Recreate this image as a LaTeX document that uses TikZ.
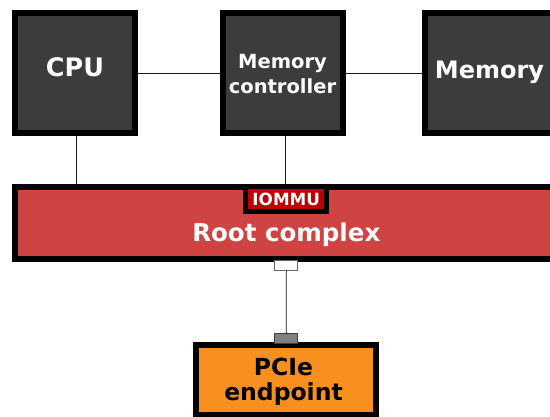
\documentclass[tikz,border=0pt]{standalone}
\usepackage{fontspec}
\setmainfont{DejaVu Sans}
\definecolor{boxgray}{HTML}{3C3C3C}
\definecolor{rcred}{HTML}{D04343}
\definecolor{iored}{HTML}{C00000}
\definecolor{pcieorange}{HTML}{F7901E}
\definecolor{portgray}{HTML}{808080}
\begin{document}
\begin{tikzpicture}[x=1pt,y=1pt,
  darkbox/.style={draw=black,fill=boxgray,line width=6pt,inner sep=0pt,minimum width=120pt,minimum height=120pt},
  rcbox/.style={draw=black,fill=rcred,line width=6pt,inner sep=0pt},
  iobox/.style={draw=black,fill=iored,line width=5pt,inner sep=0pt,minimum width=81pt,minimum height=24.7pt},
  pciebox/.style={draw=black,fill=pcieorange,line width=6pt,inner sep=0pt,minimum width=180pt,minimum height=70pt},
  port/.style={line width=1pt,inner sep=0pt,minimum width=23pt,minimum height=10pt},
  wire/.style={draw=black!90,line width=0.9pt},
  lbl/.style={inner sep=0pt,font=\bfseries,align=center}
]
\useasboundingbox (0,0) rectangle (550,416);
\begin{scope}
\clip (0,0) rectangle (550,416);
% boxes
\node[darkbox] (cpu) at (75,343) {};
\node[darkbox] (mc) at (283,343) {};
\node[darkbox,minimum width=130pt] (mem) at (490,343) {};
\node[rcbox,minimum width=542pt,minimum height=72pt] (rc) at (286,193) {};
\node[pciebox] (pcie) at (286,36) {};
% connectors
\draw[wire] (cpu.east) -- (mc.west);
\draw[wire] (mc.east) -- (mem.west);
\draw[wire] ([xshift=1pt]cpu.south) -- ([xshift=1pt]cpu.south |- rc.north);
\draw[wire] ([xshift=2pt]mc.south) -- ([xshift=2pt]mc.south |- rc.north);
% IOMMU and ports
\node[iobox] (io) at (286.3,216.8) {};
\node[port,draw=black!60,fill=white] (wp) at (286.2,150.7) {};
\node[port,draw=black!75,fill=portgray] (gp) at (286.3,77.2) {};
\draw[wire] (wp.south) -- (gp.north);
% texts
\node[lbl,text=white,anchor=base,font=\bfseries\fontsize{25.5}{30}\selectfont] (cpuT) at (75,339.3) {CPU};
\node[lbl,text=white,anchor=base,font=\bfseries\fontsize{24}{30}\selectfont] (memT) at (489.5,337) {Memory};
\node[lbl,text=white,anchor=north,font=\bfseries\fontsize{19.5}{24.7}\selectfont] (mcT) at (282.5,361.7) {Memory\\controller};
\node[lbl,text=white,anchor=base,font=\bfseries\fontsize{24.5}{30}\selectfont] (rcT) at (286.3,174.3) {Root complex};
\node[lbl,text=white,anchor=base,font=\bfseries\fontsize{16.8}{20}\selectfont] (ioT) at (286.3,211) {IOMMU};
\node[lbl,text=black,anchor=north,font=\bfseries\fontsize{23.5}{25}\selectfont] (pcieT) at (283.5,57.7) {PCIe\\endpoint};
\end{scope}
\end{tikzpicture}
\end{document}
